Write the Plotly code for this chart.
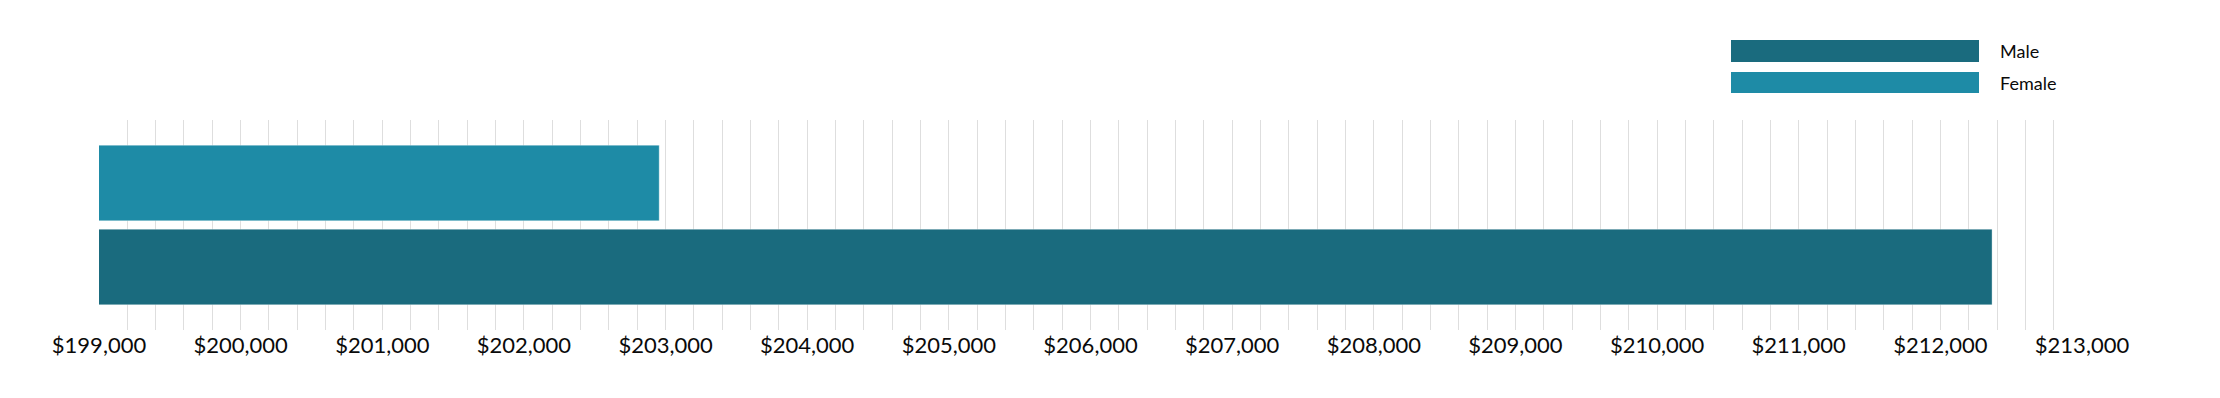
import plotly.graph_objects as go

# data
series_names = ["Male", "Female"]
series_values = [212365, 202955]
series_colors = ["#1a6b7e", "#1e8ba6"]
category = [""]
tick_values = list(range(199000, 214000, 1000))
tick_labels = ["${:,}".format(v) for v in tick_values]

# page body has an 8px margin, so the figure is drawn slightly smaller
OFF = 8
W, H = 2220 - OFF, 398 - OFF
L, R, T, B = 99 - OFF, 138, 120 - OFF, 68
pw, ph = W - L - R, H - T - B

fig = go.Figure()
for name, val, col in zip(series_names, series_values, series_colors):
    fig.add_trace(go.Bar(
        y=category, x=[val], name=name, orientation="h",
        marker=dict(color=col, line=dict(color="rgba(255,255,255,0.35)", width=1)),
        showlegend=False,
    ))

def px2paper_x(px):
    return (px - OFF - L) / pw

def px2paper_y(py):
    return (H - B - (py - OFF)) / ph

shapes = []
annotations = []
legend_rows = [(40, 62), (72, 93)]
for (y0, y1), name, col in zip(legend_rows, series_names, series_colors):
    shapes.append(dict(type="rect", xref="paper", yref="paper",
                       x0=px2paper_x(1731), x1=px2paper_x(1979),
                       y0=px2paper_y(y1), y1=px2paper_y(y0),
                       fillcolor=col, line=dict(width=0)))
    annotations.append(dict(xref="paper", yref="paper",
                            x=px2paper_x(1998), y=px2paper_y((y0 + y1) / 2),
                            text=name, showarrow=False, xanchor="left", yanchor="middle",
                            font=dict(family="Lato", size=18, color="#0a0a0a")))

fig.update_layout(
    width=W, height=H,
    margin=dict(l=L, r=R, t=T, b=B),
    paper_bgcolor="white", plot_bgcolor="white",
    barmode="group", bargap=0.2, bargroupgap=0.1,
    showlegend=False,
    shapes=shapes, annotations=annotations,
    font=dict(family="Lato", color="#0a0a0a"),
    xaxis=dict(
        range=[199000, 213000],
        tickvals=tick_values, ticktext=tick_labels,
        showgrid=True, gridcolor="#dedede", gridwidth=1,
        minor=dict(dtick=200, tick0=199000, showgrid=True, gridcolor="#dedede", gridwidth=1),
        zeroline=False, showline=False, ticks="",
        tickfont=dict(family="Lato", size=22, color="#0a0a0a"),
        ticklabelstandoff=0,
        fixedrange=True,
    ),
    yaxis=dict(showticklabels=False, showgrid=False, zeroline=False, showline=False),
)

fig.write_html("out.html")
